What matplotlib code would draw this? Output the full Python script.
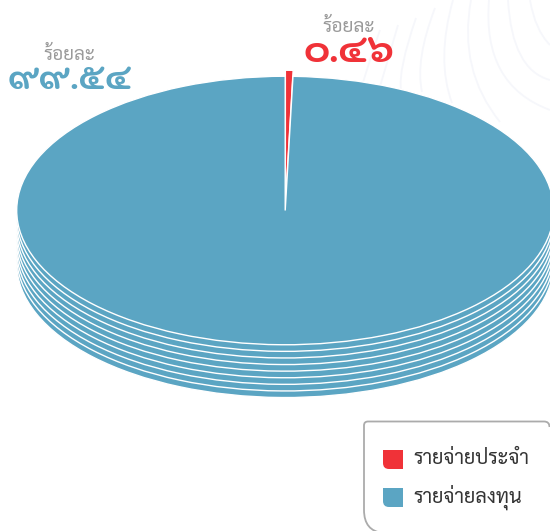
import matplotlib
matplotlib.use("Agg")
import matplotlib.pyplot as plt
from matplotlib.patches import PathPatch
from matplotlib.path import Path
import matplotlib.font_manager as fm

# ข้อมูล
categories = ["รายจ่ายประจำ", "รายจ่ายลงทุน"]
values = [0.46, 99.54]
value_labels = ["๐.๔๖", "๙๙.๕๔"]
unit_label = "ร้อยละ"
colors = ["#F03238", "#5BA5C3"]

names = {f.name for f in fm.fontManager.ttflist}
thai_text = [n for n in ["Sarabun", "Noto Sans Thai"] if n in names] + ["DejaVu Sans"]
thai_digits = [n for n in ["Kodchasan", "Niramit", "Sarabun"] if n in names] + ["DejaVu Sans"]

W, H = 550, 531
fig = plt.figure(figsize=(W / 100, H / 100), dpi=100)

# แกนพิกเซลสำหรับพื้นหลัง
bg = fig.add_axes([0, 0, 1, 1])
bg.set_xlim(0, W)
bg.set_ylim(H, 0)
bg.axis("off")

contours = [
    [(380, 30), (366, 70), (358, 100)],
    [(398, 25), (385, 70), (376, 100)],
    [(416, 18), (398, 70), (401, 90)],
    [(435, 8), (415, 60), (422, 92)],
    [(453, 0), (436, 60), (452, 103)],
    [(471, 0), (458, 70), (500, 122)],
    [(489, 0), (482, 85), (550, 110)],
    [(508, 0), (512, 70), (550, 80)],
    [(530, 0), (535, 30), (550, 45)],
]
for pts in contours:
    path = Path(pts, [Path.MOVETO, Path.CURVE3, Path.CURVE3])
    bg.add_patch(PathPatch(path, fc="none", ec="#F6F7FB", lw=1.3))

# พายซ้อนกัน 9 ชั้น
pie_ax = fig.add_axes([0, 0, 1, 1])
pie_ax.patch.set_alpha(0)
cx, cy = 285.2, 210.5
rx = 268.5
squash = 2.0
n_layers = 9
layer_gap = 6.6

for i in range(n_layers - 1, -1, -1):
    pie_ax.pie(
        values,
        colors=colors,
        startangle=90,
        counterclock=False,
        explode=[12, 0],
        radius=rx,
        center=(cx, (H - cy - i * layer_gap) * squash),
        wedgeprops={"edgecolor": "white", "linewidth": 1.0},
        normalize=True,
    )
pie_ax.set_aspect("auto")
pie_ax.set_xlim(0, W)
pie_ax.set_ylim(0, H * squash)
pie_ax.axis("off")

# ป้ายกำกับ
top = fig.add_axes([0, 0, 1, 1])
top.set_xlim(0, W)
top.set_ylim(H, 0)
top.axis("off")

top.text(69, 54.5, unit_label, color="#9A9A9A", fontsize=13.5, ha="center", va="center", family=thai_text)
top.text(70, 81, value_labels[1], color=colors[1], fontsize=25, fontweight="bold",
         ha="center", va="center", family=thai_digits)
top.text(348.5, 27, unit_label, color="#9A9A9A", fontsize=13.8, ha="center", va="center", family=thai_text)
top.text(349, 53, value_labels[0], color=colors[0], fontsize=27.5, fontweight="bold",
         ha="center", va="center", family=thai_digits)

# กล่องคำอธิบาย
box_verts = [(549.5, 427), (549.5, 421.5), (544, 421.5), (368, 421.5), (364, 421.5), (364, 425.5),
             (364, 510), (364, 531), (383, 533)]
box_codes = [Path.MOVETO, Path.CURVE3, Path.CURVE3, Path.LINETO, Path.CURVE3, Path.CURVE3,
             Path.LINETO, Path.CURVE3, Path.CURVE3]
top.add_patch(PathPatch(Path(box_verts, box_codes), fc="white", ec="#ABABAB", lw=1.3))

for label, color, y0 in zip(categories, colors, [450, 488]):
    x0, x1, y1, r = 383, 403, y0 + 19, 6
    verts = [(x0, y0), (x1, y0), (x1, y1), (x0 + r, y1), (x0, y1), (x0, y1 - r), (x0, y0)]
    codes = [Path.MOVETO, Path.LINETO, Path.LINETO, Path.LINETO, Path.CURVE3, Path.CURVE3, Path.CLOSEPOLY]
    top.add_patch(PathPatch(Path(verts, codes), fc=color, ec="none"))
    top.text(413.5, y0 + 9, label, color="#333333", fontsize=14.3, ha="left", va="center", family=thai_text)

fig.savefig("out.png", dpi=100)
